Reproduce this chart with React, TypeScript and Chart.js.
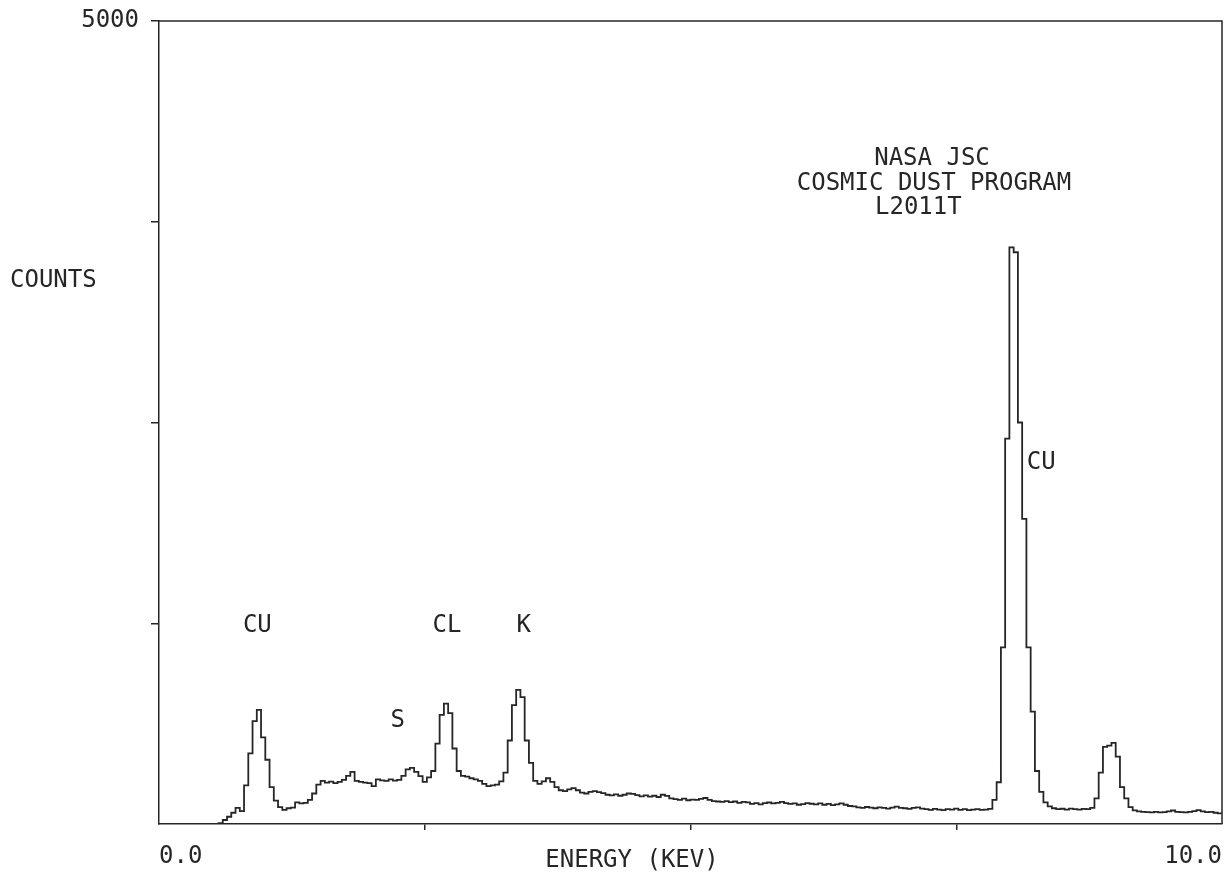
import React, { useEffect, useRef } from "react";
import { Chart, registerables } from "chart.js";

Chart.register(...registerables);

// Channel width of the spectrum (keV)
const BIN_KEV = 0.04;

// Counts per channel (250 channels, 0 - 10 keV)
const COUNTS = [
  0, 0, 0, 0, 0, 0, 0, 0, 0, 0,
  0, 0, 0, 5, 25, 45, 70, 100, 80, 240,
  440, 640, 710, 540, 400, 230, 145, 105, 88, 98,
  102, 135, 128, 132, 150, 190, 245, 268, 258, 264,
  255, 262, 275, 300, 325, 268, 262, 258, 255, 236,
  278, 272, 268, 278, 270, 275, 300, 340, 350, 325,
  298, 262, 290, 330, 500, 680, 750, 690, 470, 330,
  300, 295, 285, 278, 268, 250, 236, 240, 245, 265,
  320, 520, 740, 835, 790, 520, 380, 268, 250, 265,
  285, 262, 230, 210, 205, 215, 224, 210, 195, 190,
  200, 205, 198, 192, 182, 178, 185, 176, 182, 190,
  188, 180, 172, 178, 170, 176, 168, 182, 175, 160,
  155, 150, 158, 148, 152, 150, 156, 162, 150, 142,
  140, 138, 142, 136, 140, 132, 138, 135, 125, 130,
  122, 130, 134, 128, 132, 138, 130, 125, 128, 120,
  124, 130, 126, 122, 128, 120, 125, 118, 122, 128,
  120, 112, 110, 104, 100, 106, 102, 98, 104, 100,
  96, 102, 108, 100, 98, 94, 100, 104, 96, 92,
  88, 94, 90, 86, 92, 90, 96, 88, 92, 86,
  90, 92, 88, 90, 94, 150, 260, 1100, 2400, 3590,
  3560, 2500, 1900, 1100, 700, 330, 200, 135, 110, 98,
  92, 95, 90, 96, 92, 90, 94, 92, 100, 160,
  320, 480, 488, 505, 420, 230, 160, 105, 85, 78,
  75, 74, 72, 76, 72, 74, 78, 84, 76, 74,
  72, 75, 80, 86, 78, 74, 76, 70, 66, 62,
];

const X_MIN = 0;
const X_MAX = 10;
const Y_MIN = 0;
const Y_MAX = 5000;

const X_TICKS = [0, 2.5, 5, 7.5, 10];
const X_TICK_LABELS = ["0.0", "", "", "", "10.0"];
const Y_TICKS = [0, 1250, 2500, 3750, 5000];
const Y_TICK_LABELS = ["", "", "", "", "5000"];

const PEAK_LABELS = ["CU", "S", "CL", "K", "CU"];
const PEAK_KEV = [0.925, 2.245, 2.71, 3.43, 8.3];
const PEAK_LABEL_COUNTS = [1232, 640, 1232, 1232, 2252];

const TITLE_LINES = ["NASA JSC", "COSMIC DUST PROGRAM", "L2011T"];
const Y_LABEL = "COUNTS";
const X_LABEL = "ENERGY (KEV)";

const INK = "#262626";
const FONT_FAMILY = "'DejaVu Sans Mono', 'Liberation Mono', monospace";
const FONT_SIZE = 24;

const textPlugin = {
  id: "plotterText",
  afterDraw(chart: any) {
    const { ctx, chartArea, scales } = chart;
    const xs = scales.x;
    const ys = scales.y;
    ctx.save();
    // frame: top and right edges
    ctx.strokeStyle = INK;
    ctx.lineWidth = 1.5;
    ctx.beginPath();
    ctx.moveTo(chartArea.left, chartArea.top);
    ctx.lineTo(chartArea.right, chartArea.top);
    ctx.lineTo(chartArea.right, chartArea.bottom);
    ctx.stroke();

    ctx.fillStyle = INK;
    ctx.font = `${FONT_SIZE}px ${FONT_FAMILY}`;
    ctx.textBaseline = "middle";

    // peak annotations
    ctx.textAlign = "center";
    PEAK_LABELS.forEach((label, i) => {
      const px = xs.getPixelForValue(PEAK_KEV[i]);
      const py = ys.getPixelForValue(PEAK_LABEL_COUNTS[i]);
      ctx.fillText(label, px, py);
    });

    // title block
    ctx.textAlign = "center";
    ctx.fillText(TITLE_LINES[0], 932, 159);
    ctx.fillText(TITLE_LINES[1], 934, 184);
    ctx.textAlign = "left";
    ctx.fillText(TITLE_LINES[2], 875, 208);

    // axis titles
    ctx.textAlign = "left";
    ctx.fillText(Y_LABEL, 10, 281);
    ctx.textAlign = "center";
    ctx.fillText(X_LABEL, 632, 861);
    ctx.restore();
  },
};

export default function App() {
  const canvasRef = useRef<HTMLCanvasElement | null>(null);

  useEffect(() => {
    const canvas = canvasRef.current;
    if (!canvas) return;
    const points = COUNTS.map((c, i) => ({ x: +(BIN_KEV * (i + 1)).toFixed(2), y: c }));
    const tickColor = (ctx: any) =>
      ctx.tick && (ctx.tick.value === 0 || ctx.tick.value === 10) ? "rgba(0,0,0,0)" : INK;
    const chart = new Chart(canvas, {
      type: "line",
      data: {
        datasets: [
          {
            data: points,
            stepped: "before",
            borderColor: INK,
            borderWidth: 1.8,
            pointRadius: 0,
            fill: false,
            tension: 0,
          },
        ],
      },
      options: {
        responsive: false,
        animation: false,
        devicePixelRatio: 1,
        layout: { padding: { top: 21, right: 6, left: 0, bottom: 0 } },
        plugins: {
          legend: { display: false },
          tooltip: { enabled: false },
          title: { display: false },
        },
        scales: {
          x: {
            type: "linear",
            min: X_MIN,
            max: X_MAX,
            afterBuildTicks: (scale: any) => {
              scale.ticks = X_TICKS.map((v) => ({ value: v }));
            },
            afterFit: (scale: any) => {
              scale.height = 56;
              scale.paddingLeft = 0;
              scale.paddingRight = 0;
            },
            ticks: {
              callback: (_v: any, i: number) => X_TICK_LABELS[i],
              align: "inner",
              maxRotation: 0,
              autoSkip: false,
              padding: 12,
              color: INK,
              font: { family: FONT_FAMILY, size: FONT_SIZE },
            },
            grid: {
              drawOnChartArea: false,
              drawTicks: true,
              tickLength: 6,
              color: tickColor,
              lineWidth: 1.5,
            },
            border: { display: true, color: INK, width: 1.5 },
          },
          y: {
            type: "linear",
            min: Y_MIN,
            max: Y_MAX,
            afterBuildTicks: (scale: any) => {
              scale.ticks = Y_TICKS.map((v) => ({ value: v }));
            },
            afterFit: (scale: any) => {
              scale.width = 159;
              scale.paddingTop = 0;
              scale.paddingBottom = 0;
            },
            ticks: {
              callback: (_v: any, i: number) => Y_TICK_LABELS[i],
              autoSkip: false,
              padding: 12,
              color: INK,
              font: { family: FONT_FAMILY, size: FONT_SIZE },
            },
            grid: {
              drawOnChartArea: false,
              drawTicks: true,
              tickLength: 8,
              color: (ctx: any) => (ctx.tick && ctx.tick.value === 0 ? "rgba(0,0,0,0)" : INK),
              lineWidth: 1.5,
            },
            border: { display: true, color: INK, width: 1.5 },
          },
        },
      },
      plugins: [textPlugin],
    } as any);
    return () => chart.destroy();
  }, []);

  return (
    <canvas
      ref={canvasRef}
      width={1228}
      height={880}
      style={{ position: "absolute", left: 0, top: 0, width: 1228, height: 880, background: "#fff" }}
    />
  );
}
